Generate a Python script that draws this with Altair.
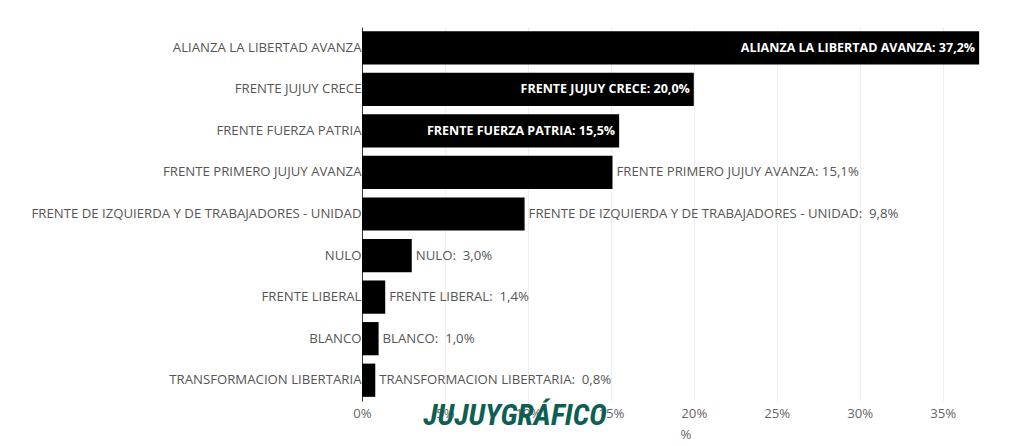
import altair as alt
import pandas as pd

parties = [
    "ALIANZA LA LIBERTAD AVANZA",
    "FRENTE JUJUY CRECE",
    "FRENTE FUERZA PATRIA",
    "FRENTE PRIMERO JUJUY AVANZA",
    "FRENTE DE IZQUIERDA Y DE TRABAJADORES - UNIDAD",
    "NULO",
    "FRENTE LIBERAL",
    "BLANCO",
    "TRANSFORMACION LIBERTARIA",
]
values = [37.2, 20.0, 15.5, 15.1, 9.8, 3.0, 1.4, 1.0, 0.8]
inside = [True, True, True, False, False, False, False, False, False]


def fmt(v):
    s = f"{v:.1f}".replace(".", ",") + "%"
    return s if v >= 10 else "\u00a0" + s


df = pd.DataFrame({
    "party": parties,
    "value": values,
    "inside": inside,
    "label": [f"{p}: {fmt(v)}" for p, v in zip(parties, values)],
})

FONT = "Open Sans"
FS = 13.2
x_scale = alt.Scale(domain=[0, 39], nice=False)
y_enc = alt.Y("party:N", sort=parties, title=None,
              scale=alt.Scale(paddingInner=0.2, paddingOuter=0.1),
              axis=alt.Axis(domainColor="#333", domainWidth=1, ticks=False,
                            labelPadding=1, labelFont=FONT, labelFontSize=FS,
                            labelColor="#555", labelLimit=420))

base = alt.Chart(df)

bars = base.mark_bar(color="#000000").encode(
    x=alt.X("value:Q", scale=x_scale, title="%",
            axis=alt.Axis(values=[0, 5, 10, 15, 20, 25, 30, 35],
                          labelExpr="datum.value + '%'", labelFlush=False,
                          domain=False, ticks=False, labelPadding=6,
                          gridColor="#efefef", labelFont=FONT, labelFontSize=FS,
                          labelColor="#666", titleFont=FONT, titleFontSize=FS,
                          titleColor="#666", titleFontWeight="normal",
                          titlePadding=9)),
    y=y_enc,
)

txt_in = base.transform_filter("datum.inside").mark_text(
    align="right", dx=-4, font=FONT, fontSize=12.5, fontWeight="bold",
    color="white",
).encode(x=alt.X("value:Q", scale=x_scale), y=alt.Y("party:N", sort=parties),
         text="label:N")

txt_out = base.transform_filter("!datum.inside").mark_text(
    align="left", dx=4, font=FONT, fontSize=FS, color="#555",
).encode(x=alt.X("value:Q", scale=x_scale), y=alt.Y("party:N", sort=parties),
         text="label:N")

wm_df = pd.DataFrame({"t": ["JUJUYGRÁFICO"]})
watermark = alt.Chart(wm_df).mark_text(
    font="Roboto Condensed, Open Sans Condensed, Liberation Sans Narrow, DejaVu Sans Condensed",
    fontSize=30, fontWeight="bold", fontStyle="italic", color="#0d5f52",
    align="center", baseline="middle",
).encode(x=alt.value(153), y=alt.value(389), text="t:N")

chart = alt.layer(bars, txt_in, txt_out, watermark).properties(
    width=647, height=374,
    padding={"left": 22, "top": 19, "right": 5, "bottom": 5},
).configure(background="white").configure_view(stroke=None)

chart.save("out.html", embed_options={"renderer": "svg", "actions": False})
